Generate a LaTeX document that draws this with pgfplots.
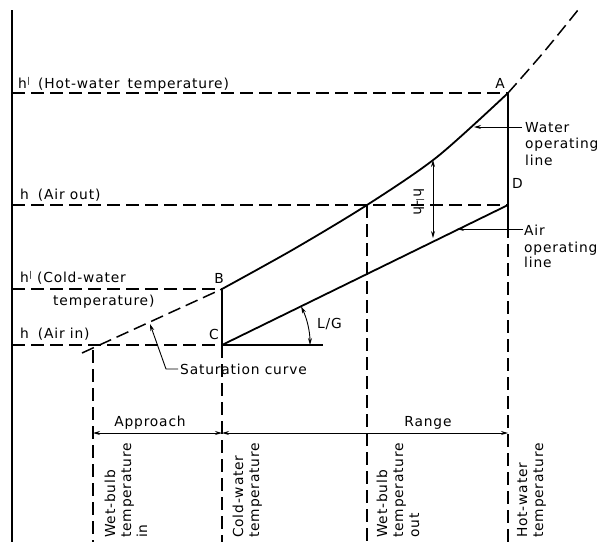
\documentclass[border=0pt]{standalone}
\usepackage{pgfplots}
\pgfplotsset{compat=1.18}
\usepackage{fontspec}
\setmainfont[LetterSpace=6]{DejaVu Sans}
\usetikzlibrary{arrows.meta}

\tikzset{
  lbl/.style={font=\fontsize{13.8}{16}\selectfont, inner sep=0pt},
  dsh/.style={line width=1.5pt, dash pattern=on 13pt off 6pt},
  sld/.style={line width=1.8pt},
  arr/.style={line width=0.9pt, -{Stealth[length=7pt,width=4pt]}},
  darr/.style={line width=0.9pt, {Stealth[length=7pt,width=4pt]}-{Stealth[length=7pt,width=4pt]}},
}
\newcommand{\hp}{h\kern0.5pt\raisebox{0.6ex}{\fontsize{8}{8}\selectfont|}}

\begin{document}
\begin{tikzpicture}
\begin{axis}[
  width=598pt, height=542pt, scale only axis,
  xmin=0, xmax=598, ymin=0, ymax=542,
  y dir=reverse,
  hide axis,
  clip=false,
]
% enthalpy axis
\addplot[line width=1.8pt] coordinates {(12,10) (12,542)};

% horizontal guide lines
\addplot[dsh] coordinates {(12,93) (508,93)};
\addplot[dsh] coordinates {(12,205) (508,205)};
\addplot[dsh] coordinates {(12,289) (222,289)};
\addplot[dsh] coordinates {(12,345) (222,345)};
\addplot[sld] coordinates {(222,345) (323,345)};

% vertical guide lines
\addplot[dsh] coordinates {(93,350) (93,542)};
\addplot[dsh] coordinates {(222,345) (222,542)};
\addplot[dsh] coordinates {(367,205) (367,542)};
\addplot[dsh] coordinates {(508,225) (508,542)};
\addplot[sld] coordinates {(222,289) (222,345)};
\addplot[sld] coordinates {(508,93) (508,225)};

% air operating line C-D
\addplot[sld] coordinates {(222,345) (508,205)};

% saturation curve
\addplot[dsh, smooth] coordinates {(82,353) (152,321) (222,289)};
\addplot[sld, smooth] coordinates {(222,289) (294,249) (367,205) (437,157) (508,93)};
\addplot[dsh, smooth] coordinates {(508,93) (543,53) (578,10)};

% arrows
\draw[darr] (axis cs:433,160) -- (axis cs:433,238);
\draw[arr] (axis cs:522,127) -- (axis cs:474,127);
\draw[arr] (axis cs:523,229) -- (axis cs:457,229);
\draw[arr] (axis cs:178,369) -- (axis cs:166,369) -- (axis cs:150,324);
\draw[darr] (axis cs:310,345) arc[start angle=0, end angle=26, radius=88pt];
\draw[darr] (axis cs:93,433) -- (axis cs:222,433);
\draw[darr] (axis cs:222,433) -- (axis cs:508,433);

% labels
\node[lbl, anchor=base west] at (axis cs:18,88) {\hp\hspace{8pt}(Hot-water\hspace{3pt} temperature)};
\node[lbl, anchor=base west] at (axis cs:20,199) {h\hspace{9pt}(Air out)};
\node[lbl, anchor=base west] at (axis cs:20,282) {\hp\hspace{5pt}(Cold-water};
\node[lbl, anchor=base west] at (axis cs:53,305) {temperature)};
\node[lbl, anchor=base west] at (axis cs:20,338) {h\hspace{9pt}(Air in)};
\node[lbl, anchor=west] at (axis cs:180,369) {Saturation curve};
\node[lbl, anchor=base] at (axis cs:219,283) {B};
\node[lbl, anchor=base] at (axis cs:214,339) {C};
\node[lbl, anchor=base] at (axis cs:500,88) {A};
\node[lbl, anchor=base west] at (axis cs:512,188) {D};
\node[lbl, anchor=base west] at (axis cs:317,328) {L/G};
\node[lbl, rotate=-90] at (axis cs:419,202) {\hp-h};
\node[lbl, anchor=base west] at (axis cs:525,132) {Water};
\node[lbl, anchor=base west] at (axis cs:525,148) {operating};
\node[lbl, anchor=base west] at (axis cs:525,165) {line};
\node[lbl, anchor=base west] at (axis cs:524,235) {Air};
\node[lbl, anchor=base west] at (axis cs:524,252) {operating};
\node[lbl, anchor=base west] at (axis cs:524,267) {line};
\node[lbl, anchor=base] at (axis cs:150,426) {Approach};
\node[lbl, anchor=base] at (axis cs:428,426) {Range};

% rotated labels at the bottom
\node[lbl, rotate=90, anchor=base west] at (axis cs:115,538) {Wet-bulb};
\node[lbl, rotate=90, anchor=base west] at (axis cs:131,538) {temperature};
\node[lbl, rotate=90, anchor=base west] at (axis cs:147,538) {in};
\node[lbl, rotate=90, anchor=base west] at (axis cs:243,538) {Cold-water};
\node[lbl, rotate=90, anchor=base west] at (axis cs:259,538) {temperature};
\node[lbl, rotate=90, anchor=base west] at (axis cs:387,538) {Wet-bulb};
\node[lbl, rotate=90, anchor=base west] at (axis cs:403,538) {temperature};
\node[lbl, rotate=90, anchor=base west] at (axis cs:419,538) {out};
\node[lbl, rotate=90, anchor=base west] at (axis cs:527,538) {Hot-water};
\node[lbl, rotate=90, anchor=base west] at (axis cs:543,538) {temperature};
\end{axis}
\pgfresetboundingbox
\path (0,0) rectangle (598pt,542pt);
\end{tikzpicture}
\end{document}
